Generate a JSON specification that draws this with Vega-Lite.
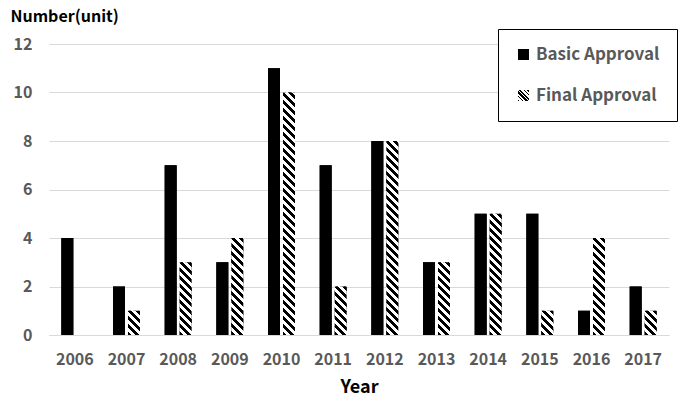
{
  "$schema": "https://vega.github.io/schema/vega-lite/v6.json",
  "width": 620,
  "height": 291,
  "autosize": {"type": "none"},
  "padding": {"left": 49, "top": 44, "right": 31, "bottom": 77},
  "background": "white",
  "config": {
    "font": "Noto Sans CJK KR",
    "view": {"stroke": null}
  },
  "data": {"values": [
    {"year": "2006", "series": "Basic Approval", "value": 4},
    {"year": "2006", "series": "Final Approval", "value": 0},
    {"year": "2007", "series": "Basic Approval", "value": 2},
    {"year": "2007", "series": "Final Approval", "value": 1},
    {"year": "2008", "series": "Basic Approval", "value": 7},
    {"year": "2008", "series": "Final Approval", "value": 3},
    {"year": "2009", "series": "Basic Approval", "value": 3},
    {"year": "2009", "series": "Final Approval", "value": 4},
    {"year": "2010", "series": "Basic Approval", "value": 11},
    {"year": "2010", "series": "Final Approval", "value": 10},
    {"year": "2011", "series": "Basic Approval", "value": 7},
    {"year": "2011", "series": "Final Approval", "value": 2},
    {"year": "2012", "series": "Basic Approval", "value": 8},
    {"year": "2012", "series": "Final Approval", "value": 8},
    {"year": "2013", "series": "Basic Approval", "value": 3},
    {"year": "2013", "series": "Final Approval", "value": 3},
    {"year": "2014", "series": "Basic Approval", "value": 5},
    {"year": "2014", "series": "Final Approval", "value": 5},
    {"year": "2015", "series": "Basic Approval", "value": 5},
    {"year": "2015", "series": "Final Approval", "value": 1},
    {"year": "2016", "series": "Basic Approval", "value": 1},
    {"year": "2016", "series": "Final Approval", "value": 4},
    {"year": "2017", "series": "Basic Approval", "value": 2},
    {"year": "2017", "series": "Final Approval", "value": 1}
  ]},
  "encoding": {
    "x": {
      "field": "year", "type": "nominal",
      "scale": {"paddingInner": 0.478, "paddingOuter": 0.239},
      "axis": {
        "title": "Year", "labelAngle": 0, "ticks": false,
        "domainColor": "#d9d9d9", "domainWidth": 1,
        "labelFontSize": 16, "labelFontWeight": "bold", "labelColor": "#595959",
        "labelPadding": 16,
        "titleFontSize": 18, "titleFontWeight": "bold", "titleColor": "#000000",
        "titlePadding": 11
      }
    },
    "xOffset": {
      "field": "series", "type": "nominal",
      "scale": {"paddingInner": 0.2, "paddingOuter": 0}
    },
    "y": {
      "field": "value", "type": "quantitative", "stack": null,
      "scale": {"domain": [0, 12], "nice": false},
      "axis": {
        "values": [0, 2, 4, 6, 8, 10, 12],
        "domain": false, "ticks": false,
        "gridColor": "#d9d9d9", "gridWidth": 1,
        "labelFontSize": 16, "labelFontWeight": "bold", "labelColor": "#595959",
        "labelPadding": 17,
        "title": "Number(unit)", "titleAngle": 0, "titleAlign": "left",
        "titleBaseline": "middle", "titleX": -39, "titleY": -28,
        "titleFontSize": 16, "titleFontWeight": "bold", "titleColor": "#000000"
      }
    }
  },
  "layer": [
    {
      "mark": {"type": "bar"},
      "encoding": {
        "color": {
          "field": "series", "type": "nominal",
          "scale": {"domain": ["Basic Approval", "Final Approval"],
                    "range": ["black", {"expr": "{gradient: 'linear', x1: 0, y1: 1, x2: 1.0909, y2: -0.0909, stops: [{offset:0,color:'#000'},{offset:0.0833,color:'#000'},{offset:0.0833,color:'#fff'},{offset:0.1667,color:'#fff'},{offset:0.1667,color:'#000'},{offset:0.25,color:'#000'},{offset:0.25,color:'#fff'},{offset:0.3333,color:'#fff'},{offset:0.3333,color:'#000'},{offset:0.4167,color:'#000'},{offset:0.4167,color:'#fff'},{offset:0.5,color:'#fff'},{offset:0.5,color:'#000'},{offset:0.5833,color:'#000'},{offset:0.5833,color:'#fff'},{offset:0.6667,color:'#fff'},{offset:0.6667,color:'#000'},{offset:0.75,color:'#000'},{offset:0.75,color:'#fff'},{offset:0.8333,color:'#fff'},{offset:0.8333,color:'#000'},{offset:0.9167,color:'#000'},{offset:0.9167,color:'#fff'},{offset:1,color:'#fff'}]}"}]},
          "legend": {
            "title": null, "orient": "none", "legendX": 449, "legendY": -15,
            "strokeColor": "#000000", "fillColor": "white",
            "padding": 17, "symbolType": "square", "symbolSize": 121,
            "symbolStrokeWidth": 0, "rowPadding": 23, "labelOffset": 4,
            "labelFontSize": 17, "labelFontWeight": "bold", "labelColor": "#595959", "labelLimit": 300
          }
        }
      }
    },
    {
      "mark": {"type": "bar"},
      "encoding": {
        "fill": {"value": {"expr": "datum.series == 'Basic Approval' ? 'black' : {gradient: 'linear', x1: 0, y1: 1, x2: 3840 / (144 + pow(datum.value * 24.25, 2)), y2: 1 - 320 * datum.value * 24.25 / (144 + pow(datum.value * 24.25, 2)), stops: [{offset:0,color:'#000'},{offset:0.0125,color:'#000'},{offset:0.0125,color:'#fff'},{offset:0.025,color:'#fff'},{offset:0.025,color:'#000'},{offset:0.0375,color:'#000'},{offset:0.0375,color:'#fff'},{offset:0.05,color:'#fff'},{offset:0.05,color:'#000'},{offset:0.0625,color:'#000'},{offset:0.0625,color:'#fff'},{offset:0.075,color:'#fff'},{offset:0.075,color:'#000'},{offset:0.0875,color:'#000'},{offset:0.0875,color:'#fff'},{offset:0.1,color:'#fff'},{offset:0.1,color:'#000'},{offset:0.1125,color:'#000'},{offset:0.1125,color:'#fff'},{offset:0.125,color:'#fff'},{offset:0.125,color:'#000'},{offset:0.1375,color:'#000'},{offset:0.1375,color:'#fff'},{offset:0.15,color:'#fff'},{offset:0.15,color:'#000'},{offset:0.1625,color:'#000'},{offset:0.1625,color:'#fff'},{offset:0.175,color:'#fff'},{offset:0.175,color:'#000'},{offset:0.1875,color:'#000'},{offset:0.1875,color:'#fff'},{offset:0.2,color:'#fff'},{offset:0.2,color:'#000'},{offset:0.2125,color:'#000'},{offset:0.2125,color:'#fff'},{offset:0.225,color:'#fff'},{offset:0.225,color:'#000'},{offset:0.2375,color:'#000'},{offset:0.2375,color:'#fff'},{offset:0.25,color:'#fff'},{offset:0.25,color:'#000'},{offset:0.2625,color:'#000'},{offset:0.2625,color:'#fff'},{offset:0.275,color:'#fff'},{offset:0.275,color:'#000'},{offset:0.2875,color:'#000'},{offset:0.2875,color:'#fff'},{offset:0.3,color:'#fff'},{offset:0.3,color:'#000'},{offset:0.3125,color:'#000'},{offset:0.3125,color:'#fff'},{offset:0.325,color:'#fff'},{offset:0.325,color:'#000'},{offset:0.3375,color:'#000'},{offset:0.3375,color:'#fff'},{offset:0.35,color:'#fff'},{offset:0.35,color:'#000'},{offset:0.3625,color:'#000'},{offset:0.3625,color:'#fff'},{offset:0.375,color:'#fff'},{offset:0.375,color:'#000'},{offset:0.3875,color:'#000'},{offset:0.3875,color:'#fff'},{offset:0.4,color:'#fff'},{offset:0.4,color:'#000'},{offset:0.4125,color:'#000'},{offset:0.4125,color:'#fff'},{offset:0.425,color:'#fff'},{offset:0.425,color:'#000'},{offset:0.4375,color:'#000'},{offset:0.4375,color:'#fff'},{offset:0.45,color:'#fff'},{offset:0.45,color:'#000'},{offset:0.4625,color:'#000'},{offset:0.4625,color:'#fff'},{offset:0.475,color:'#fff'},{offset:0.475,color:'#000'},{offset:0.4875,color:'#000'},{offset:0.4875,color:'#fff'},{offset:0.5,color:'#fff'},{offset:0.5,color:'#000'},{offset:0.5125,color:'#000'},{offset:0.5125,color:'#fff'},{offset:0.525,color:'#fff'},{offset:0.525,color:'#000'},{offset:0.5375,color:'#000'},{offset:0.5375,color:'#fff'},{offset:0.55,color:'#fff'},{offset:0.55,color:'#000'},{offset:0.5625,color:'#000'},{offset:0.5625,color:'#fff'},{offset:0.575,color:'#fff'},{offset:0.575,color:'#000'},{offset:0.5875,color:'#000'},{offset:0.5875,color:'#fff'},{offset:0.6,color:'#fff'},{offset:0.6,color:'#000'},{offset:0.6125,color:'#000'},{offset:0.6125,color:'#fff'},{offset:0.625,color:'#fff'},{offset:0.625,color:'#000'},{offset:0.6375,color:'#000'},{offset:0.6375,color:'#fff'},{offset:0.65,color:'#fff'},{offset:0.65,color:'#000'},{offset:0.6625,color:'#000'},{offset:0.6625,color:'#fff'},{offset:0.675,color:'#fff'},{offset:0.675,color:'#000'},{offset:0.6875,color:'#000'},{offset:0.6875,color:'#fff'},{offset:0.7,color:'#fff'},{offset:0.7,color:'#000'},{offset:0.7125,color:'#000'},{offset:0.7125,color:'#fff'},{offset:0.725,color:'#fff'},{offset:0.725,color:'#000'},{offset:0.7375,color:'#000'},{offset:0.7375,color:'#fff'},{offset:0.75,color:'#fff'},{offset:0.75,color:'#000'},{offset:0.7625,color:'#000'},{offset:0.7625,color:'#fff'},{offset:0.775,color:'#fff'},{offset:0.775,color:'#000'},{offset:0.7875,color:'#000'},{offset:0.7875,color:'#fff'},{offset:0.8,color:'#fff'},{offset:0.8,color:'#000'},{offset:0.8125,color:'#000'},{offset:0.8125,color:'#fff'},{offset:0.825,color:'#fff'},{offset:0.825,color:'#000'},{offset:0.8375,color:'#000'},{offset:0.8375,color:'#fff'},{offset:0.85,color:'#fff'},{offset:0.85,color:'#000'},{offset:0.8625,color:'#000'},{offset:0.8625,color:'#fff'},{offset:0.875,color:'#fff'},{offset:0.875,color:'#000'},{offset:0.8875,color:'#000'},{offset:0.8875,color:'#fff'},{offset:0.9,color:'#fff'},{offset:0.9,color:'#000'},{offset:0.9125,color:'#000'},{offset:0.9125,color:'#fff'},{offset:0.925,color:'#fff'},{offset:0.925,color:'#000'},{offset:0.9375,color:'#000'},{offset:0.9375,color:'#fff'},{offset:0.95,color:'#fff'},{offset:0.95,color:'#000'},{offset:0.9625,color:'#000'},{offset:0.9625,color:'#fff'},{offset:0.975,color:'#fff'},{offset:0.975,color:'#000'},{offset:0.9875,color:'#000'},{offset:0.9875,color:'#fff'},{offset:1,color:'#fff'}]}"}}
      }
    }
  ]
}
